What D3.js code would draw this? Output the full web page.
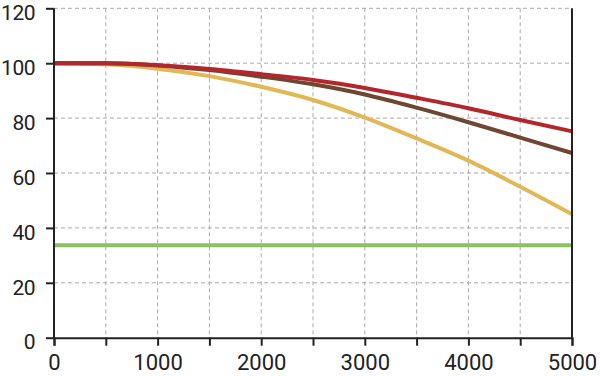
<!DOCTYPE html>
<html><head><meta charset="utf-8">
<script src="https://cdn.jsdelivr.net/npm/d3@7"></script>
<style>body{margin:0;background:#fff}svg{display:block}</style>
</head><body>
<svg id="c" width="600" height="376"></svg>
<script>
const xValues = [0, 500, 1000, 1500, 2000, 2500, 3000, 3500, 4000, 4500, 5000];
const redSeries = [100, 100, 99.3, 97.9, 96.0, 93.9, 91.0, 87.4, 83.6, 79.3, 75.2];
const brownSeries = [100, 100, 99.2, 97.5, 95.1, 92.3, 88.6, 83.8, 78.5, 72.9, 67.3];
const yellowSeries = [100, 99.6, 98.0, 95.3, 91.4, 86.6, 80.2, 72.6, 64.5, 55.0, 45.0];
const greenSeries = [33.7, 33.7, 33.7, 33.7, 33.7, 33.7, 33.7, 33.7, 33.7, 33.7, 33.7];
const xTicks = [0, 1000, 2000, 3000, 4000, 5000];
const xGrid = [500, 1000, 1500, 2000, 2500, 3000, 3500, 4000, 4500];
const yTicks = [0, 20, 40, 60, 80, 100, 120];

const svg = d3.select('#c');
const x = d3.scaleLinear().domain([0, 5000]).range([54, 572]);
const y = d3.scaleLinear().domain([0, 120]).range([337.7, 8.3]);
const font = 'Roboto, sans-serif';

// grid
svg.append('g').selectAll('line').data(yTicks.filter(d => d > 0)).join('line')
  .attr('x1', x(0)).attr('x2', x(5000)).attr('y1', d => y(d)).attr('y2', d => y(d))
  .attr('stroke', '#aaa').attr('stroke-width', 1).attr('stroke-dasharray', '4,3');
svg.append('g').selectAll('line').data(xGrid).join('line')
  .attr('x1', d => x(d)).attr('x2', d => x(d)).attr('y1', y(120)).attr('y2', y(0))
  .attr('stroke', '#aaa').attr('stroke-width', 1).attr('stroke-dasharray', '4,3');

// lines
const line = d3.line().x((d, i) => x(xValues[i])).y(d => y(d)).curve(d3.curveMonotoneX);
const series = [
  {v: greenSeries, c: '#8cc063', w: 4},
  {v: yellowSeries, c: '#e2b755', w: 4},
  {v: brownSeries, c: '#6e4632', w: 4},
  {v: redSeries, c: '#b3262c', w: 4}
];
svg.append('g').selectAll('path').data(series).join('path')
  .attr('d', d => line(d.v)).attr('fill', 'none')
  .attr('stroke', d => d.c).attr('stroke-width', d => d.w).attr('stroke-linecap', 'butt');

// axes
const xAxis = d3.axisBottom(x).tickValues(d3.range(0, 5001, 500)).tickSize(8)
  .tickFormat(d => xTicks.includes(d) ? d : '');
const gx = svg.append('g').attr('transform', `translate(0,${y(0)})`).call(xAxis);
gx.select('.domain').attr('stroke', '#222').attr('stroke-width', 2);
gx.selectAll('.tick line').attr('stroke', '#222').attr('stroke-width', 2);
gx.selectAll('text').attr('font-family', font).attr('font-size', 22)
  .attr('fill', '#222').attr('dy', 0).attr('y', 32.5);

const yAxis = d3.axisLeft(y).tickValues(yTicks).tickSize(8).tickPadding(11);
const gy = svg.append('g').attr('transform', `translate(${x(0)},0)`).call(yAxis);
gy.select('.domain').attr('stroke', '#222').attr('stroke-width', 2).attr('d', `M0,${y(120)}V${y(0)}`);
gy.selectAll('.tick line').attr('stroke', '#222').attr('stroke-width', 2);
gy.selectAll('text').attr('font-family', font).attr('font-size', 21).attr('letter-spacing', '-0.5px')
  .attr('fill', '#222').attr('dy', 11.2);

// right border
svg.append('line').attr('x1', x(5000)).attr('x2', x(5000)).attr('y1', y(120)).attr('y2', y(0))
  .attr('stroke', '#222').attr('stroke-width', 2);
</script>
</body></html>
